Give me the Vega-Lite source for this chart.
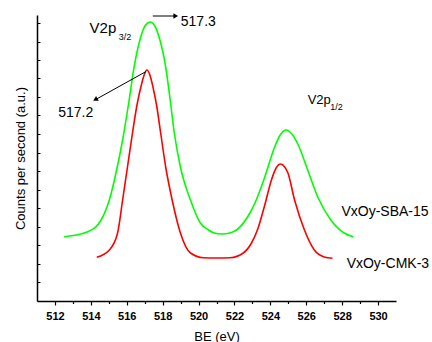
{
  "$schema": "https://vega.github.io/schema/vega-lite/v6.json",
  "width": 359,
  "height": 286,
  "autosize": "none",
  "padding": {"left": 37, "top": 15, "right": 36, "bottom": 41},
  "background": "white",
  "config": {
    "view": {"stroke": null},
    "font": "Liberation Sans",
    "axis": {"grid": false, "domainColor": "black", "tickColor": "black", "labelColor": "black", "titleColor": "black", "domainWidth": 1.5, "titleFontWeight": "normal", "labelFont": "Liberation Sans", "titleFont": "Liberation Sans"}
  },
  "datasets": {
    "spectra": [
      {"be": 512.51, "counts": 64.3, "sample": "VxOy-SBA-15"},
      {"be": 513.83, "counts": 69.3, "sample": "VxOy-SBA-15"},
      {"be": 514.57, "counts": 81, "sample": "VxOy-SBA-15"},
      {"be": 515.03, "counts": 101, "sample": "VxOy-SBA-15"},
      {"be": 515.40, "counts": 128, "sample": "VxOy-SBA-15"},
      {"be": 515.77, "counts": 161, "sample": "VxOy-SBA-15"},
      {"be": 516.10, "counts": 197, "sample": "VxOy-SBA-15"},
      {"be": 516.41, "counts": 234, "sample": "VxOy-SBA-15"},
      {"be": 516.78, "counts": 264, "sample": "VxOy-SBA-15"},
      {"be": 517.05, "counts": 276, "sample": "VxOy-SBA-15"},
      {"be": 517.30, "counts": 279, "sample": "VxOy-SBA-15"},
      {"be": 517.55, "counts": 275.5, "sample": "VxOy-SBA-15"},
      {"be": 517.80, "counts": 264, "sample": "VxOy-SBA-15"},
      {"be": 518.17, "counts": 234, "sample": "VxOy-SBA-15"},
      {"be": 518.42, "counts": 201, "sample": "VxOy-SBA-15"},
      {"be": 518.65, "counts": 168, "sample": "VxOy-SBA-15"},
      {"be": 518.99, "counts": 134, "sample": "VxOy-SBA-15"},
      {"be": 519.55, "counts": 101, "sample": "VxOy-SBA-15"},
      {"be": 520.10, "counts": 78, "sample": "VxOy-SBA-15"},
      {"be": 520.56, "counts": 71, "sample": "VxOy-SBA-15"},
      {"be": 520.83, "counts": 68.3, "sample": "VxOy-SBA-15"},
      {"be": 521.29, "counts": 67, "sample": "VxOy-SBA-15"},
      {"be": 521.75, "counts": 68, "sample": "VxOy-SBA-15"},
      {"be": 522.15, "counts": 71.5, "sample": "VxOy-SBA-15"},
      {"be": 522.86, "counts": 88, "sample": "VxOy-SBA-15"},
      {"be": 523.14, "counts": 98, "sample": "VxOy-SBA-15"},
      {"be": 523.69, "counts": 124, "sample": "VxOy-SBA-15"},
      {"be": 524.24, "counts": 154, "sample": "VxOy-SBA-15"},
      {"be": 524.55, "counts": 166, "sample": "VxOy-SBA-15"},
      {"be": 524.88, "counts": 171, "sample": "VxOy-SBA-15"},
      {"be": 525.20, "counts": 167, "sample": "VxOy-SBA-15"},
      {"be": 525.53, "counts": 157, "sample": "VxOy-SBA-15"},
      {"be": 526.08, "counts": 131, "sample": "VxOy-SBA-15"},
      {"be": 526.64, "counts": 104, "sample": "VxOy-SBA-15"},
      {"be": 527.37, "counts": 81, "sample": "VxOy-SBA-15"},
      {"be": 528.11, "counts": 68, "sample": "VxOy-SBA-15"},
      {"be": 528.62, "counts": 64.3, "sample": "VxOy-SBA-15"},
      {"be": 514.33, "counts": 43.7, "sample": "VxOy-CMK-3"},
      {"be": 515.03, "counts": 51, "sample": "VxOy-CMK-3"},
      {"be": 515.49, "counts": 68, "sample": "VxOy-CMK-3"},
      {"be": 515.77, "counts": 101, "sample": "VxOy-CMK-3"},
      {"be": 516.04, "counts": 134, "sample": "VxOy-CMK-3"},
      {"be": 516.32, "counts": 168, "sample": "VxOy-CMK-3"},
      {"be": 516.57, "counts": 196, "sample": "VxOy-CMK-3"},
      {"be": 516.80, "counts": 215, "sample": "VxOy-CMK-3"},
      {"be": 516.97, "counts": 226, "sample": "VxOy-CMK-3"},
      {"be": 517.12, "counts": 231, "sample": "VxOy-CMK-3"},
      {"be": 517.29, "counts": 226, "sample": "VxOy-CMK-3"},
      {"be": 517.46, "counts": 214, "sample": "VxOy-CMK-3"},
      {"be": 517.66, "counts": 196, "sample": "VxOy-CMK-3"},
      {"be": 517.89, "counts": 168, "sample": "VxOy-CMK-3"},
      {"be": 518.17, "counts": 134, "sample": "VxOy-CMK-3"},
      {"be": 518.53, "counts": 101, "sample": "VxOy-CMK-3"},
      {"be": 518.99, "counts": 68, "sample": "VxOy-CMK-3"},
      {"be": 519.55, "counts": 48, "sample": "VxOy-CMK-3"},
      {"be": 520.28, "counts": 43.3, "sample": "VxOy-CMK-3"},
      {"be": 521.00, "counts": 43, "sample": "VxOy-CMK-3"},
      {"be": 521.76, "counts": 43.3, "sample": "VxOy-CMK-3"},
      {"be": 522.49, "counts": 48, "sample": "VxOy-CMK-3"},
      {"be": 522.95, "counts": 58, "sample": "VxOy-CMK-3"},
      {"be": 523.30, "counts": 72, "sample": "VxOy-CMK-3"},
      {"be": 523.69, "counts": 96, "sample": "VxOy-CMK-3"},
      {"be": 524.06, "counts": 121, "sample": "VxOy-CMK-3"},
      {"be": 524.32, "counts": 133, "sample": "VxOy-CMK-3"},
      {"be": 524.57, "counts": 137, "sample": "VxOy-CMK-3"},
      {"be": 524.80, "counts": 134, "sample": "VxOy-CMK-3"},
      {"be": 524.98, "counts": 128, "sample": "VxOy-CMK-3"},
      {"be": 525.35, "counts": 101, "sample": "VxOy-CMK-3"},
      {"be": 525.90, "counts": 71, "sample": "VxOy-CMK-3"},
      {"be": 526.45, "counts": 51, "sample": "VxOy-CMK-3"},
      {"be": 527.00, "counts": 44, "sample": "VxOy-CMK-3"},
      {"be": 527.46, "counts": 42.7, "sample": "VxOy-CMK-3"}
    ],
    "arrows": [
      {"be": 517.45, "counts": 285, "be2": 518.73, "counts2": 285},
      {"be": 517.06, "counts": 229.3, "be2": 514.3, "counts2": 201.8}
    ],
    "headRight": [{"be": 518.73, "counts": 285}],
    "headDownLeft": [{"be": 514.25, "counts": 201.4}],
    "numLabels": [
      {"be": 519.01, "counts": 275, "text": "517.3"},
      {"be": 512.18, "counts": 183.7, "text": "517.2"}
    ],
    "peakMain1": [{"be": 513.93, "counts": 267.7, "text": "V2p"}],
    "peakMain2": [{"be": 526.08, "counts": 197, "text": "V2p"}],
    "peakSub": [
      {"be": 515.55, "counts": 261, "text": "3/2"},
      {"be": 527.34, "counts": 191, "text": "1/2"}
    ],
    "sampleLabels": [
      {"be": 527.96, "counts": 85.3, "text": "VxOy-SBA-15"},
      {"be": 528.25, "counts": 32.7, "text": "VxOy-CMK-3"}
    ]
  },
  "encoding": {
    "x": {
      "field": "be", "type": "quantitative",
      "scale": {"domain": [511, 531], "nice": false, "zero": false},
      "axis": {
        "title": "BE (eV)", "titleFontSize": 13, "titlePadding": 9,
        "values": [512, 513, 514, 515, 516, 517, 518, 519, 520, 521, 522, 523, 524, 525, 526, 527, 528, 529, 530],
        "labelExpr": "datum.value % 2 === 0 ? datum.label : ''",
        "labelFontSize": 11, "labelFontWeight": "bold", "labelPadding": 5,
        "tickSize": {"condition": {"test": "datum.value % 2 === 0", "value": 4}, "value": 2.5},
        "tickWidth": 1.2
      }
    },
    "y": {
      "field": "counts", "type": "quantitative",
      "scale": {"domain": [0, 286], "nice": false, "zero": false},
      "axis": {
        "title": "Counts per second (a.u.)", "titleFontSize": 13, "titlePadding": 9,
        "labels": false, "tickSize": -3, "tickWidth": 1,
        "values": [19, 37.5, 56, 74.5, 93, 111.5, 130, 148.5, 167, 185.5, 204, 222.5, 241, 259.5, 278]
      }
    }
  },
  "layer": [
    {
      "data": {"name": "spectra"},
      "mark": {"type": "line", "interpolate": "monotone", "strokeWidth": 1.6},
      "encoding": {
        "color": {"field": "sample", "type": "nominal", "legend": null,
          "scale": {"domain": ["VxOy-SBA-15", "VxOy-CMK-3"], "range": ["#00ff00", "#ff0000"]}}
      }
    },
    {
      "data": {"name": "arrows"},
      "mark": {"type": "rule", "color": "black", "strokeWidth": 1},
      "encoding": {
        "x2": {"field": "be2"},
        "y2": {"field": "counts2"}
      }
    },
    {
      "data": {"name": "headRight"},
      "mark": {"type": "point", "shape": "triangle-right", "filled": true, "color": "black", "size": 30, "opacity": 1}
    },
    {
      "data": {"name": "headDownLeft"},
      "mark": {"type": "point", "shape": "triangle-up", "angle": 241, "filled": true, "color": "black", "size": 30, "opacity": 1}
    },
    {
      "data": {"name": "numLabels"},
      "mark": {"type": "text", "align": "left", "baseline": "alphabetic", "fontSize": 14, "color": "black"},
      "encoding": {"text": {"field": "text"}}
    },
    {
      "data": {"name": "peakMain1"},
      "mark": {"type": "text", "align": "left", "baseline": "alphabetic", "fontSize": 15, "color": "black"},
      "encoding": {"text": {"field": "text"}}
    },
    {
      "data": {"name": "peakMain2"},
      "mark": {"type": "text", "align": "left", "baseline": "alphabetic", "fontSize": 13, "color": "black"},
      "encoding": {"text": {"field": "text"}}
    },
    {
      "data": {"name": "peakSub"},
      "mark": {"type": "text", "align": "left", "baseline": "alphabetic", "fontSize": 9, "color": "black"},
      "encoding": {"text": {"field": "text"}}
    },
    {
      "data": {"name": "sampleLabels"},
      "mark": {"type": "text", "align": "left", "baseline": "alphabetic", "fontSize": 14, "color": "black"},
      "encoding": {"text": {"field": "text"}}
    }
  ]
}
